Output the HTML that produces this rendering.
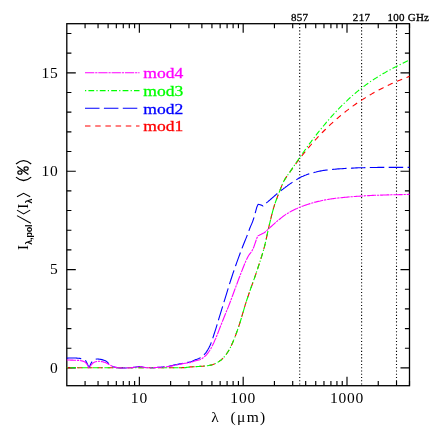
<!DOCTYPE html>
<html><head><meta charset="utf-8"><title>plot</title>
<style>
html,body{margin:0;padding:0;background:#fff;}
body{width:432px;height:432px;overflow:hidden;}
svg{display:block;will-change:transform;}
text{font-family:"Liberation Serif",serif;fill:#000;}
</style></head><body>
<svg width="432" height="432" viewBox="0 0 432 432">
<rect width="432" height="432" fill="#fff"/>
<path d="M85.08,385.7v-4.6M85.08,23.7v4.6M98.05,385.7v-4.6M98.05,23.7v4.6M108.11,385.7v-4.6M108.11,23.7v4.6M116.33,385.7v-4.6M116.33,23.7v4.6M123.28,385.7v-4.6M123.28,23.7v4.6M129.30,385.7v-4.6M129.30,23.7v4.6M134.61,385.7v-4.6M134.61,23.7v4.6M139.36,385.7v-9.0M139.36,23.7v9.0M170.62,385.7v-4.6M170.62,23.7v4.6M188.90,385.7v-4.6M188.90,23.7v4.6M201.87,385.7v-4.6M201.87,23.7v4.6M211.93,385.7v-4.6M211.93,23.7v4.6M220.15,385.7v-4.6M220.15,23.7v4.6M227.10,385.7v-4.6M227.10,23.7v4.6M233.12,385.7v-4.6M233.12,23.7v4.6M238.43,385.7v-4.6M238.43,23.7v4.6M243.18,385.7v-9.0M243.18,23.7v9.0M274.43,385.7v-4.6M274.43,23.7v4.6M292.71,385.7v-4.6M292.71,23.7v4.6M305.68,385.7v-4.6M305.68,23.7v4.6M315.74,385.7v-4.6M315.74,23.7v4.6M323.97,385.7v-4.6M323.97,23.7v4.6M330.92,385.7v-4.6M330.92,23.7v4.6M336.94,385.7v-4.6M336.94,23.7v4.6M342.25,385.7v-4.6M342.25,23.7v4.6M347.00,385.7v-9.0M347.00,23.7v9.0M378.25,385.7v-4.6M378.25,23.7v4.6M396.53,385.7v-4.6M396.53,23.7v4.6M409.50,385.7v-4.6M409.50,23.7v4.6M66.8,367.90h9.0M409.5,367.90h-9.0M66.8,348.23h4.6M409.5,348.23h-4.6M66.8,328.56h4.6M409.5,328.56h-4.6M66.8,308.89h4.6M409.5,308.89h-4.6M66.8,289.22h4.6M409.5,289.22h-4.6M66.8,269.55h9.0M409.5,269.55h-9.0M66.8,249.88h4.6M409.5,249.88h-4.6M66.8,230.21h4.6M409.5,230.21h-4.6M66.8,210.54h4.6M409.5,210.54h-4.6M66.8,190.87h4.6M409.5,190.87h-4.6M66.8,171.20h9.0M409.5,171.20h-9.0M66.8,151.53h4.6M409.5,151.53h-4.6M66.8,131.86h4.6M409.5,131.86h-4.6M66.8,112.19h4.6M409.5,112.19h-4.6M66.8,92.52h4.6M409.5,92.52h-4.6M66.8,72.85h9.0M409.5,72.85h-9.0M66.8,53.18h4.6M409.5,53.18h-4.6M66.8,33.51h4.6M409.5,33.51h-4.6" stroke="#000" stroke-width="1.15" fill="none"/>
<rect x="66.8" y="23.7" width="342.7" height="362.0" fill="none" stroke="#000" stroke-width="1.3"/>
<line x1="299.7" y1="23.8" x2="299.7" y2="385.7" stroke="#000" stroke-width="1.1" stroke-dasharray="1.1 2.17" stroke-linecap="butt"/>
<line x1="361.6" y1="23.8" x2="361.6" y2="385.7" stroke="#000" stroke-width="1.1" stroke-dasharray="1.1 2.17" stroke-linecap="butt"/>
<line x1="396.5" y1="23.8" x2="396.5" y2="385.7" stroke="#000" stroke-width="1.1" stroke-dasharray="1.1 2.17" stroke-linecap="butt"/>
<g fill="none" stroke-width="1.1">
<path d="M66.8,367.8 L67.8,367.8 L68.8,367.8 L69.8,367.8 L70.8,367.8 L71.8,367.8 L72.8,367.8 L73.8,367.8 L74.8,367.8 L75.8,367.8 L76.8,367.8 L77.8,367.8 L78.8,367.8 L79.8,367.8 L80.8,367.8 L81.8,367.8 L82.8,367.8 L83.8,367.8 L84.8,367.8 L85.8,367.8 L86.8,367.8 L87.8,367.8 L88.8,367.8 L89.8,367.8 L90.8,367.8 L91.8,367.8 L92.8,367.8 L93.8,367.8 L94.8,367.8 L95.8,367.8 L96.8,367.8 L97.8,367.8 L98.8,367.8 L99.8,367.8 L100.8,367.8 L101.8,367.8 L102.8,367.8 L103.8,367.8 L104.8,367.8 L105.8,367.8 L106.8,367.8 L107.8,367.8 L108.8,367.8 L109.8,367.8 L110.8,367.8 L111.8,367.8 L112.8,367.8 L113.8,367.8 L114.8,367.8 L115.8,367.8 L116.8,367.8 L117.8,367.8 L118.8,367.8 L119.8,367.8 L120.8,367.8 L121.8,367.8 L122.8,367.8 L123.8,367.8 L124.8,367.8 L125.8,367.8 L126.8,367.8 L127.8,367.8 L128.8,367.8 L129.8,367.8 L130.8,367.8 L131.8,367.8 L132.8,367.8 L133.8,367.8 L134.8,367.8 L135.8,367.8 L136.8,367.8 L137.8,367.8 L138.8,367.8 L139.8,367.8 L140.8,367.8 L141.8,367.8 L142.8,367.8 L143.8,367.8 L144.8,367.8 L145.8,367.8 L146.8,367.8 L147.8,367.8 L148.8,367.8 L149.8,367.8 L150.8,367.8 L151.8,367.8 L152.8,367.8 L153.8,367.8 L154.8,367.8 L155.8,367.8 L156.8,367.8 L157.8,367.8 L158.8,367.8 L159.8,367.8 L160.8,367.8 L161.8,367.8 L162.8,367.8 L163.8,367.8 L164.8,367.8 L165.8,367.8 L166.8,367.8 L167.8,367.8 L168.8,367.8 L169.8,367.7 L170.8,367.7 L171.8,367.7 L172.8,367.7 L173.8,367.7 L174.8,367.7 L175.8,367.7 L176.8,367.7 L177.8,367.7 L178.8,367.7 L179.8,367.7 L180.8,367.7 L181.8,367.6 L182.8,367.6 L183.8,367.6 L184.8,367.6 L185.8,367.6 L186.8,367.4 L187.8,367.3 L188.8,367.1 L189.8,367.0 L190.8,366.9 L191.8,366.9 L192.8,366.8 L193.8,366.7 L194.8,366.7 L195.8,366.6 L196.8,366.6 L197.8,366.5 L198.8,366.5 L199.8,366.4 L200.8,366.4 L201.8,366.3 L202.8,366.2 L203.8,366.1 L204.8,366.0 L205.8,365.9 L206.8,365.8 L207.8,365.7 L208.8,365.5 L209.8,365.3 L210.8,365.1 L211.8,364.9 L212.8,364.6 L213.8,364.2 L214.8,363.8 L215.8,363.4 L216.8,362.9 L217.8,362.3 L218.8,361.6 L219.8,360.9 L220.8,360.2 L221.8,359.3 L222.8,358.4 L223.8,357.3 L224.8,356.1 L225.8,354.9 L226.8,353.5 L227.8,352.0 L228.8,350.4 L229.8,348.6 L230.8,346.6 L231.8,344.4 L232.8,342.2 L233.8,339.9 L234.8,337.4 L235.8,334.8 L236.8,332.0 L237.8,329.1 L238.8,326.1 L239.8,323.1 L240.8,320.0 L241.8,316.7 L242.8,313.2 L243.8,309.8 L244.8,306.4 L245.8,303.1 L246.8,300.0 L247.8,297.0 L248.8,294.1 L249.8,291.2 L250.8,288.3 L251.8,285.5 L252.8,282.7 L253.8,279.9 L254.8,277.1 L255.8,274.2 L256.8,271.2 L257.8,268.3 L258.8,265.2 L259.8,262.1 L260.8,259.0 L261.8,255.9 L262.8,252.6 L263.8,249.1 L264.8,245.3 L265.8,241.0 L266.8,236.3 L267.8,231.6 L268.8,227.1 L269.8,222.9 L270.8,218.8 L271.8,214.7 L272.8,210.9 L273.8,207.4 L274.8,204.2 L275.8,201.2 L276.8,198.5 L277.8,195.8 L278.8,193.3 L279.8,190.7 L280.8,188.1 L281.8,185.6 L282.8,183.3 L283.8,181.2 L284.8,179.4 L285.8,177.9 L286.8,176.4 L287.8,175.1 L288.8,173.7 L289.8,172.2 L290.8,170.8 L291.8,169.4 L292.8,167.9 L293.8,166.6 L294.8,165.2 L295.8,163.8 L296.8,162.5 L297.8,161.1 L298.8,159.8 L299.8,158.5 L300.8,157.2 L301.8,155.9 L302.8,154.7 L303.8,153.4 L304.8,152.2 L305.8,150.9 L306.8,149.7 L307.8,148.5 L308.8,147.3 L309.8,146.1 L310.8,145.0 L311.8,143.8 L312.8,142.7 L313.8,141.6 L314.8,140.5 L315.8,139.3 L316.8,138.3 L317.8,137.2 L318.8,136.1 L319.8,135.1 L320.8,134.0 L321.8,133.0 L322.8,132.0 L323.8,131.0 L324.8,130.0 L325.8,129.0 L326.8,128.0 L327.8,127.0 L328.8,126.1 L329.8,125.1 L330.8,124.2 L331.8,123.3 L332.8,122.4 L333.8,121.5 L334.8,120.6 L335.8,119.7 L336.8,118.8 L337.8,118.0 L338.8,117.1 L339.8,116.3 L340.8,115.4 L341.8,114.6 L342.8,113.8 L343.8,113.0 L344.8,112.2 L345.8,111.4 L346.8,110.6 L347.8,109.9 L348.8,109.1 L349.8,108.3 L350.8,107.6 L351.8,106.9 L352.8,106.1 L353.8,105.4 L354.8,104.7 L355.8,104.0 L356.8,103.3 L357.8,102.6 L358.8,102.0 L359.8,101.3 L360.8,100.6 L361.8,100.0 L362.8,99.4 L363.8,98.7 L364.8,98.1 L365.8,97.5 L366.8,96.8 L367.8,96.2 L368.8,95.6 L369.8,95.0 L370.8,94.5 L371.8,93.9 L372.8,93.3 L373.8,92.7 L374.8,92.2 L375.8,91.6 L376.8,91.1 L377.8,90.6 L378.8,90.0 L379.8,89.5 L380.8,89.0 L381.8,88.5 L382.8,88.0 L383.8,87.4 L384.8,87.0 L385.8,86.5 L386.8,86.0 L387.8,85.5 L388.8,85.0 L389.8,84.6 L390.8,84.1 L391.8,83.6 L392.8,83.2 L393.8,82.7 L394.8,82.3 L395.8,81.9 L396.8,81.4 L397.8,81.0 L398.8,80.6 L399.8,80.2 L400.8,79.8 L401.8,79.4 L402.8,79.0 L403.8,78.6 L404.8,78.2 L405.8,77.8 L406.8,77.4 L407.8,77.0 L408.8,76.6 L409.5,76.4" stroke="#ff0000" stroke-dasharray="5.5 4.7"/>
<path d="M66.8,358.1 L67.8,358.1 L68.8,358.0 L69.8,358.0 L70.8,358.0 L71.8,358.0 L72.8,358.0 L73.8,358.0 L74.8,358.0 L75.8,358.0 L76.8,358.1 L77.8,358.2 L78.8,358.3 L79.8,358.4 L80.8,358.6 L81.8,358.8 L82.8,359.0 L83.8,359.4 L84.8,359.9 L85.8,360.9 L86.8,362.8 L87.8,364.9 L88.8,367.3 L89.8,366.3 L90.8,363.8 L91.8,362.1 L92.8,360.8 L93.8,360.1 L94.8,359.6 L95.8,359.2 L96.8,359.0 L97.8,359.0 L98.8,359.1 L99.8,359.3 L100.8,359.4 L101.8,359.6 L102.8,359.9 L103.8,360.2 L104.8,360.6 L105.8,361.0 L106.8,361.6 L107.8,362.6 L108.8,363.5 L109.8,364.4 L110.8,365.2 L111.8,365.8 L112.8,366.4 L113.8,366.9 L114.8,367.2 L115.8,367.4 L116.8,367.6 L117.8,367.7 L118.8,367.8 L119.8,367.9 L120.8,367.9 L121.8,368.0 L122.8,368.0 L123.8,368.0 L124.8,368.0 L125.8,368.0 L126.8,367.9 L127.8,367.9 L128.8,367.9 L129.8,367.8 L130.8,367.7 L131.8,367.6 L132.8,367.5 L133.8,367.3 L134.8,367.2 L135.8,367.0 L136.8,366.9 L137.8,366.7 L138.8,366.5 L139.8,366.5 L140.8,366.7 L141.8,366.9 L142.8,367.2 L143.8,367.3 L144.8,367.5 L145.8,367.6 L146.8,367.7 L147.8,367.8 L148.8,367.8 L149.8,367.8 L150.8,367.8 L151.8,367.7 L152.8,367.7 L153.8,367.6 L154.8,367.6 L155.8,367.5 L156.8,367.5 L157.8,367.4 L158.8,367.3 L159.8,367.3 L160.8,367.2 L161.8,367.1 L162.8,367.0 L163.8,366.9 L164.8,366.8 L165.8,366.7 L166.8,366.5 L167.8,366.4 L168.8,366.2 L169.8,366.0 L170.8,365.8 L171.8,365.6 L172.8,365.4 L173.8,365.1 L174.8,364.9 L175.8,364.7 L176.8,364.5 L177.8,364.3 L178.8,364.1 L179.8,363.9 L180.8,363.7 L181.8,363.5 L182.8,363.3 L183.8,363.1 L184.8,363.0 L185.8,362.8 L186.8,362.6 L187.8,362.4 L188.8,362.3 L189.8,362.0 L190.8,361.8 L191.8,361.4 L192.8,360.9 L193.8,360.4 L194.8,360.0 L195.8,359.6 L196.8,359.3 L197.8,358.9 L198.8,358.6 L199.8,358.1 L200.8,357.5 L201.8,356.8 L202.8,356.0 L203.8,355.0 L204.8,354.0 L205.8,352.8 L206.8,351.4 L207.8,349.7 L208.8,347.9 L209.8,345.9 L210.8,343.7 L211.8,341.0 L212.8,338.1 L213.8,335.0 L214.8,331.9 L215.8,328.8 L216.8,325.6 L217.8,322.3 L218.8,318.9 L219.8,315.7 L220.8,312.4 L221.8,309.1 L222.8,305.9 L223.8,302.6 L224.8,299.4 L225.8,296.1 L226.8,292.8 L227.8,289.6 L228.8,286.3 L229.8,283.1 L230.8,280.0 L231.8,277.0 L232.8,273.9 L233.8,271.0 L234.8,268.1 L235.8,265.2 L236.8,262.4 L237.8,259.6 L238.8,256.9 L239.8,254.2 L240.8,251.5 L241.8,248.9 L242.8,246.3 L243.8,243.8 L244.8,241.3 L245.8,238.9 L246.8,236.4 L247.8,233.8 L248.8,231.0 L249.8,228.3 L250.8,225.9 L251.8,223.6 L252.8,221.1 L253.8,218.0 L254.8,214.5 L255.8,210.9 L256.8,207.2 L257.8,204.9 L258.2,204.3 L259.2,204.5 L260.2,204.8 L261.2,205.1 L262.2,205.6 L263.0,206.0 L264.0,205.1 L265.0,204.2 L266.0,203.3 L267.0,202.4 L268.0,201.6 L269.0,200.7 L270.0,199.9 L271.0,199.0 L272.0,198.1 L273.0,197.3 L274.0,196.4 L275.0,195.5 L276.0,194.6 L277.0,193.8 L278.0,192.9 L279.0,192.1 L280.0,191.3 L281.0,190.6 L282.0,189.8 L283.0,189.1 L284.0,188.3 L285.0,187.6 L286.0,186.8 L287.0,186.1 L288.0,185.3 L289.0,184.6 L290.0,183.9 L291.0,183.2 L292.0,182.6 L293.0,182.0 L294.0,181.4 L295.0,180.7 L296.0,180.0 L297.0,179.4 L298.0,178.7 L299.0,178.1 L300.0,177.6 L301.0,177.1 L302.0,176.6 L303.0,176.2 L304.0,175.7 L305.0,175.3 L306.0,175.0 L307.0,174.6 L308.0,174.2 L309.0,173.9 L310.0,173.6 L311.0,173.3 L312.0,173.0 L313.0,172.7 L314.0,172.5 L315.0,172.2 L316.0,172.0 L317.0,171.7 L318.0,171.5 L319.0,171.3 L320.0,171.1 L321.0,170.9 L322.0,170.7 L323.0,170.5 L324.0,170.4 L325.0,170.3 L326.0,170.1 L327.0,170.0 L328.0,169.9 L329.0,169.8 L330.0,169.7 L331.0,169.6 L332.0,169.5 L333.0,169.4 L334.0,169.3 L335.0,169.2 L336.0,169.1 L337.0,169.0 L338.0,168.9 L339.0,168.9 L340.0,168.8 L341.0,168.7 L342.0,168.7 L343.0,168.6 L344.0,168.5 L345.0,168.5 L346.0,168.4 L347.0,168.4 L348.0,168.3 L349.0,168.3 L350.0,168.2 L351.0,168.2 L352.0,168.1 L353.0,168.1 L354.0,168.0 L355.0,168.0 L356.0,167.9 L357.0,167.9 L358.0,167.8 L359.0,167.8 L360.0,167.8 L361.0,167.7 L362.0,167.7 L363.0,167.7 L364.0,167.7 L365.0,167.6 L366.0,167.6 L367.0,167.6 L368.0,167.6 L369.0,167.6 L370.0,167.5 L371.0,167.5 L372.0,167.5 L373.0,167.5 L374.0,167.5 L375.0,167.5 L376.0,167.5 L377.0,167.5 L378.0,167.4 L379.0,167.4 L380.0,167.4 L381.0,167.4 L382.0,167.4 L383.0,167.4 L384.0,167.4 L385.0,167.4 L386.0,167.4 L387.0,167.4 L388.0,167.4 L389.0,167.4 L390.0,167.4 L391.0,167.4 L392.0,167.4 L393.0,167.4 L394.0,167.4 L395.0,167.4 L396.0,167.4 L397.0,167.4 L398.0,167.4 L399.0,167.4 L400.0,167.4 L401.0,167.4 L402.0,167.4 L403.0,167.4 L404.0,167.4 L405.0,167.4 L406.0,167.4 L407.0,167.4 L408.0,167.4 L409.0,167.4 L409.5,167.4" stroke="#0000ff" stroke-dasharray="14.5 4.4"/>
<path d="M66.8,367.8 L67.8,367.8 L68.8,367.8 L69.8,367.8 L70.8,367.8 L71.8,367.8 L72.8,367.8 L73.8,367.8 L74.8,367.8 L75.8,367.8 L76.8,367.8 L77.8,367.8 L78.8,367.8 L79.8,367.8 L80.8,367.8 L81.8,367.8 L82.8,367.8 L83.8,367.8 L84.8,367.8 L85.8,367.8 L86.8,367.8 L87.8,367.8 L88.8,367.8 L89.8,367.8 L90.8,367.8 L91.8,367.8 L92.8,367.8 L93.8,367.8 L94.8,367.8 L95.8,367.8 L96.8,367.8 L97.8,367.8 L98.8,367.8 L99.8,367.8 L100.8,367.8 L101.8,367.8 L102.8,367.8 L103.8,367.8 L104.8,367.8 L105.8,367.8 L106.8,367.8 L107.8,367.8 L108.8,367.8 L109.8,367.8 L110.8,367.8 L111.8,367.8 L112.8,367.8 L113.8,367.8 L114.8,367.8 L115.8,367.8 L116.8,367.8 L117.8,367.8 L118.8,367.8 L119.8,367.8 L120.8,367.8 L121.8,367.8 L122.8,367.8 L123.8,367.8 L124.8,367.8 L125.8,367.8 L126.8,367.8 L127.8,367.8 L128.8,367.8 L129.8,367.8 L130.8,367.8 L131.8,367.8 L132.8,367.8 L133.8,367.8 L134.8,367.8 L135.8,367.8 L136.8,367.8 L137.8,367.8 L138.8,367.8 L139.8,367.8 L140.8,367.8 L141.8,367.8 L142.8,367.8 L143.8,367.8 L144.8,367.8 L145.8,367.8 L146.8,367.8 L147.8,367.8 L148.8,367.8 L149.8,367.8 L150.8,367.8 L151.8,367.8 L152.8,367.8 L153.8,367.8 L154.8,367.8 L155.8,367.8 L156.8,367.8 L157.8,367.8 L158.8,367.8 L159.8,367.8 L160.8,367.8 L161.8,367.8 L162.8,367.8 L163.8,367.8 L164.8,367.8 L165.8,367.8 L166.8,367.8 L167.8,367.8 L168.8,367.8 L169.8,367.7 L170.8,367.7 L171.8,367.7 L172.8,367.7 L173.8,367.7 L174.8,367.7 L175.8,367.7 L176.8,367.7 L177.8,367.7 L178.8,367.7 L179.8,367.7 L180.8,367.7 L181.8,367.6 L182.8,367.6 L183.8,367.6 L184.8,367.6 L185.8,367.6 L186.8,367.4 L187.8,367.3 L188.8,367.1 L189.8,367.0 L190.8,366.9 L191.8,366.9 L192.8,366.8 L193.8,366.7 L194.8,366.7 L195.8,366.6 L196.8,366.6 L197.8,366.5 L198.8,366.5 L199.8,366.4 L200.8,366.4 L201.8,366.3 L202.8,366.2 L203.8,366.1 L204.8,366.0 L205.8,365.9 L206.8,365.8 L207.8,365.7 L208.8,365.5 L209.8,365.3 L210.8,365.1 L211.8,364.9 L212.8,364.6 L213.8,364.2 L214.8,363.8 L215.8,363.4 L216.8,362.9 L217.8,362.3 L218.8,361.6 L219.8,360.9 L220.8,360.2 L221.8,359.3 L222.8,358.4 L223.8,357.3 L224.8,356.1 L225.8,354.9 L226.8,353.5 L227.8,352.0 L228.8,350.4 L229.8,348.6 L230.8,346.6 L231.8,344.4 L232.8,342.2 L233.8,339.9 L234.8,337.4 L235.8,334.8 L236.8,332.0 L237.8,329.1 L238.8,326.1 L239.8,323.1 L240.8,320.0 L241.8,316.7 L242.8,313.2 L243.8,309.8 L244.8,306.4 L245.8,303.1 L246.8,300.0 L247.8,297.0 L248.8,294.1 L249.8,291.2 L250.8,288.3 L251.8,285.5 L252.8,282.7 L253.8,279.9 L254.8,277.1 L255.8,274.2 L256.8,271.2 L257.8,268.3 L258.8,265.2 L259.8,262.1 L260.8,259.0 L261.8,255.9 L262.8,252.6 L263.8,249.1 L264.8,245.3 L265.8,241.0 L266.8,236.3 L267.8,231.6 L268.8,227.1 L269.8,222.9 L270.8,218.8 L271.8,214.7 L272.8,210.9 L273.8,207.4 L274.8,204.2 L275.8,201.2 L276.8,198.5 L277.8,195.8 L278.8,193.3 L279.8,190.7 L280.8,188.1 L281.8,185.6 L282.8,183.3 L283.8,181.3 L284.8,179.5 L285.8,177.9 L286.8,176.4 L287.8,175.0 L288.8,173.6 L289.8,172.1 L290.8,170.6 L291.8,169.1 L292.8,167.6 L293.8,166.1 L294.8,164.6 L295.8,163.2 L296.8,161.7 L297.8,160.3 L298.8,158.8 L299.8,157.4 L300.8,155.9 L301.8,154.5 L302.8,153.1 L303.8,151.7 L304.8,150.3 L305.8,148.9 L306.8,147.5 L307.8,146.1 L308.8,144.8 L309.8,143.4 L310.8,142.1 L311.8,140.7 L312.8,139.4 L313.8,138.1 L314.8,136.8 L315.8,135.5 L316.8,134.2 L317.8,132.9 L318.8,131.6 L319.8,130.4 L320.8,129.1 L321.8,127.9 L322.8,126.7 L323.8,125.5 L324.8,124.3 L325.8,123.1 L326.8,121.9 L327.8,120.7 L328.8,119.6 L329.8,118.4 L330.8,117.3 L331.8,116.2 L332.8,115.1 L333.8,114.0 L334.8,112.9 L335.8,111.8 L336.8,110.8 L337.8,109.7 L338.8,108.7 L339.8,107.6 L340.8,106.6 L341.8,105.6 L342.8,104.6 L343.8,103.6 L344.8,102.7 L345.8,101.7 L346.8,100.8 L347.8,99.8 L348.8,98.9 L349.8,98.0 L350.8,97.1 L351.8,96.2 L352.8,95.3 L353.8,94.5 L354.8,93.6 L355.8,92.8 L356.8,91.9 L357.8,91.1 L358.8,90.3 L359.8,89.5 L360.8,88.7 L361.8,87.9 L362.8,87.2 L363.8,86.4 L364.8,85.7 L365.8,84.9 L366.8,84.2 L367.8,83.5 L368.8,82.8 L369.8,82.1 L370.8,81.4 L371.8,80.7 L372.8,80.1 L373.8,79.4 L374.8,78.7 L375.8,78.1 L376.8,77.5 L377.8,76.8 L378.8,76.2 L379.8,75.6 L380.8,75.0 L381.8,74.4 L382.8,73.8 L383.8,73.2 L384.8,72.7 L385.8,72.1 L386.8,71.5 L387.8,71.0 L388.8,70.4 L389.8,69.9 L390.8,69.4 L391.8,68.8 L392.8,68.3 L393.8,67.8 L394.8,67.3 L395.8,66.8 L396.8,66.2 L397.8,65.7 L398.8,65.2 L399.8,64.7 L400.8,64.2 L401.8,63.7 L402.8,63.3 L403.8,62.8 L404.8,62.3 L405.8,61.8 L406.8,61.3 L407.8,60.8 L408.8,60.3 L409.5,60.0" stroke="#00ff00" stroke-dasharray="1.2 2.2 5.8 2.2"/>
<path d="M66.8,360.0 L67.8,360.0 L68.8,360.0 L69.8,360.0 L70.8,360.1 L71.8,360.1 L72.8,360.1 L73.8,360.2 L74.8,360.2 L75.8,360.2 L76.8,360.3 L77.8,360.4 L78.8,360.4 L79.8,360.5 L80.8,360.7 L81.8,360.9 L82.8,361.1 L83.8,361.4 L84.8,361.9 L85.8,362.8 L86.8,363.9 L87.8,365.6 L88.8,367.6 L89.8,366.5 L90.8,365.3 L91.8,364.3 L92.8,363.2 L93.8,362.4 L94.8,362.0 L95.8,361.7 L96.8,361.5 L97.8,361.4 L98.8,361.3 L99.8,361.3 L100.8,361.4 L101.8,361.6 L102.8,361.8 L103.8,362.1 L104.8,362.3 L105.8,362.7 L106.8,363.2 L107.8,363.8 L108.8,364.4 L109.8,364.9 L110.8,365.4 L111.8,365.9 L112.8,366.4 L113.8,366.9 L114.8,367.2 L115.8,367.4 L116.8,367.6 L117.8,367.7 L118.8,367.8 L119.8,367.9 L120.8,367.9 L121.8,368.0 L122.8,368.0 L123.8,368.0 L124.8,368.0 L125.8,368.0 L126.8,367.9 L127.8,367.9 L128.8,367.9 L129.8,367.8 L130.8,367.7 L131.8,367.6 L132.8,367.5 L133.8,367.3 L134.8,367.2 L135.8,367.0 L136.8,366.9 L137.8,366.7 L138.8,366.5 L139.8,366.5 L140.8,366.7 L141.8,366.9 L142.8,367.2 L143.8,367.3 L144.8,367.5 L145.8,367.6 L146.8,367.7 L147.8,367.8 L148.8,367.8 L149.8,367.8 L150.8,367.8 L151.8,367.7 L152.8,367.7 L153.8,367.6 L154.8,367.6 L155.8,367.5 L156.8,367.5 L157.8,367.4 L158.8,367.3 L159.8,367.3 L160.8,367.2 L161.8,367.2 L162.8,367.1 L163.8,367.0 L164.8,366.9 L165.8,366.8 L166.8,366.7 L167.8,366.6 L168.8,366.5 L169.8,366.3 L170.8,366.1 L171.8,365.9 L172.8,365.7 L173.8,365.5 L174.8,365.3 L175.8,365.1 L176.8,364.9 L177.8,364.7 L178.8,364.5 L179.8,364.3 L180.8,364.1 L181.8,363.9 L182.8,363.7 L183.8,363.5 L184.8,363.3 L185.8,363.2 L186.8,363.0 L187.8,362.9 L188.8,362.8 L189.8,362.6 L190.8,362.4 L191.8,362.1 L192.8,361.7 L193.8,361.3 L194.8,361.0 L195.8,360.7 L196.8,360.5 L197.8,360.3 L198.8,360.0 L199.8,359.7 L200.8,359.2 L201.8,358.7 L202.8,358.0 L203.8,357.3 L204.8,356.4 L205.8,355.5 L206.8,354.4 L207.8,353.2 L208.8,351.8 L209.8,350.3 L210.8,348.7 L211.8,346.8 L212.8,344.8 L213.8,342.7 L214.8,340.4 L215.8,338.2 L216.8,335.7 L217.8,333.2 L218.8,330.6 L219.8,328.0 L220.8,325.5 L221.8,323.0 L222.8,320.5 L223.8,318.0 L224.8,315.5 L225.8,313.0 L226.8,310.5 L227.8,308.1 L228.8,305.6 L229.8,303.0 L230.8,300.4 L231.8,297.7 L232.8,295.0 L233.8,292.2 L234.8,289.5 L235.8,286.9 L236.8,284.2 L237.8,281.5 L238.8,278.8 L239.8,276.2 L240.8,273.6 L241.8,271.1 L242.8,268.5 L243.8,266.0 L244.8,263.5 L245.8,261.1 L246.8,258.9 L247.8,257.0 L248.8,255.3 L249.8,253.9 L250.8,252.6 L251.8,251.1 L252.8,249.3 L253.8,247.0 L254.8,244.1 L255.8,241.2 L256.8,238.3 L257.8,236.2 L258.2,235.6 L259.2,235.2 L260.2,234.7 L261.2,234.3 L262.2,233.8 L263.2,233.3 L264.2,232.8 L265.2,232.0 L266.2,231.1 L267.2,230.2 L268.2,229.2 L269.2,228.3 L270.2,227.4 L271.2,226.5 L272.2,225.6 L273.2,224.7 L274.2,223.8 L275.2,222.9 L276.2,222.0 L277.2,221.1 L278.2,220.3 L279.2,219.5 L280.2,218.7 L281.2,217.9 L282.2,217.1 L283.2,216.3 L284.2,215.6 L285.2,214.9 L286.2,214.3 L287.2,213.6 L288.2,213.0 L289.2,212.5 L290.2,211.9 L291.2,211.3 L292.2,210.8 L293.2,210.3 L294.2,209.8 L295.2,209.3 L296.2,208.8 L297.2,208.4 L298.2,207.9 L299.2,207.5 L300.2,207.1 L301.2,206.7 L302.2,206.3 L303.2,205.9 L304.2,205.6 L305.2,205.2 L306.2,204.9 L307.2,204.5 L308.2,204.2 L309.2,203.9 L310.2,203.6 L311.2,203.3 L312.2,203.0 L313.2,202.7 L314.2,202.4 L315.2,202.1 L316.2,201.9 L317.2,201.6 L318.2,201.4 L319.2,201.2 L320.2,201.0 L321.2,200.7 L322.2,200.5 L323.2,200.3 L324.2,200.1 L325.2,199.9 L326.2,199.7 L327.2,199.5 L328.2,199.4 L329.2,199.2 L330.2,199.0 L331.2,198.9 L332.2,198.7 L333.2,198.6 L334.2,198.5 L335.2,198.3 L336.2,198.2 L337.2,198.1 L338.2,198.0 L339.2,197.9 L340.2,197.8 L341.2,197.7 L342.2,197.6 L343.2,197.5 L344.2,197.4 L345.2,197.3 L346.2,197.2 L347.2,197.1 L348.2,197.0 L349.2,196.9 L350.2,196.8 L351.2,196.8 L352.2,196.7 L353.2,196.6 L354.2,196.5 L355.2,196.5 L356.2,196.4 L357.2,196.3 L358.2,196.2 L359.2,196.2 L360.2,196.1 L361.2,196.0 L362.2,196.0 L363.2,195.9 L364.2,195.9 L365.2,195.8 L366.2,195.8 L367.2,195.7 L368.2,195.6 L369.2,195.6 L370.2,195.5 L371.2,195.5 L372.2,195.4 L373.2,195.4 L374.2,195.3 L375.2,195.3 L376.2,195.3 L377.2,195.2 L378.2,195.2 L379.2,195.2 L380.2,195.1 L381.2,195.1 L382.2,195.1 L383.2,195.0 L384.2,195.0 L385.2,195.0 L386.2,195.0 L387.2,194.9 L388.2,194.9 L389.2,194.9 L390.2,194.9 L391.2,194.8 L392.2,194.8 L393.2,194.8 L394.2,194.8 L395.2,194.7 L396.2,194.7 L397.2,194.7 L398.2,194.7 L399.2,194.6 L400.2,194.6 L401.2,194.6 L402.2,194.6 L403.2,194.5 L404.2,194.5 L405.2,194.5 L406.2,194.5 L407.2,194.5 L408.2,194.4 L409.2,194.4 L409.5,194.4" stroke="#ff00ff" stroke-dasharray="9.3 0.9 2.2 0.9"/>
</g>
<line x1="85" y1="72.8" x2="139.5" y2="72.8" stroke="#ff00ff" stroke-width="1.1" stroke-dasharray="9.3 0.9 2.2 0.9"/>
<text x="143.3" y="78.0" font-size="15.5" textLength="40" lengthAdjust="spacingAndGlyphs" style="fill:#ff00ff;stroke:#ff00ff;stroke-width:0.3">mod4</text>
<line x1="85" y1="90.6" x2="139.5" y2="90.6" stroke="#00ff00" stroke-width="1.1" stroke-dasharray="1.2 2.2 5.8 2.2"/>
<text x="143.3" y="95.8" font-size="15.5" textLength="40" lengthAdjust="spacingAndGlyphs" style="fill:#00ff00;stroke:#00ff00;stroke-width:0.3">mod3</text>
<line x1="85" y1="108.3" x2="139.5" y2="108.3" stroke="#0000ff" stroke-width="1.1" stroke-dasharray="14.5 4.4"/>
<text x="143.3" y="113.5" font-size="15.5" textLength="40" lengthAdjust="spacingAndGlyphs" style="fill:#0000ff;stroke:#0000ff;stroke-width:0.3">mod2</text>
<line x1="85" y1="126.0" x2="139.5" y2="126.0" stroke="#ff0000" stroke-width="1.1" stroke-dasharray="5.5 4.7"/>
<text x="143.3" y="131.2" font-size="15.5" textLength="40" lengthAdjust="spacingAndGlyphs" style="fill:#ff0000;stroke:#ff0000;stroke-width:0.3">mod1</text>
<text x="139.4" y="403.3" font-size="15.5" text-anchor="middle" letter-spacing="0.8">10</text>
<text x="243.2" y="403.3" font-size="15.5" text-anchor="middle" letter-spacing="0.8">100</text>
<text x="347.0" y="403.3" font-size="15.5" text-anchor="middle" letter-spacing="0.8">1000</text>
<text x="58.6" y="372.8" font-size="15.5" text-anchor="end" letter-spacing="0.8">0</text>
<text x="58.6" y="274.4" font-size="15.5" text-anchor="end" letter-spacing="0.8">5</text>
<text x="58.6" y="176.1" font-size="15.5" text-anchor="end" letter-spacing="0.8">10</text>
<text x="58.6" y="77.7" font-size="15.5" text-anchor="end" letter-spacing="0.8">15</text>
<text x="299.7" y="20.8" font-size="11" text-anchor="middle" letter-spacing="0.35" stroke="#000" stroke-width="0.3">857</text>
<text x="361.6" y="20.8" font-size="11" text-anchor="middle" letter-spacing="0.35" stroke="#000" stroke-width="0.3">217</text>
<text x="387.4" y="20.8" font-size="11" textLength="41.6" lengthAdjust="spacing" stroke="#000" stroke-width="0.3">100 GHz</text>
<text x="211.3" y="422" font-size="15.5">λ</text>
<text x="230.5" y="422" font-size="15.5" textLength="34.7" lengthAdjust="spacing">(μm)</text>
<g transform="translate(28.1,249.7) rotate(-90)">
<text x="-0.4" y="0" font-size="15.5">I</text>
<text x="5.0" y="3.4" font-size="9" font-weight="bold" font-family="Liberation Sans" style="font-family:'Liberation Sans',sans-serif" textLength="20.2" lengthAdjust="spacing">λ,pol</text>
<path d="M26.5,2.8 L34.1,-11.1 M39.6,-11.1 L35.7,-4.5 L39.6,2.1 M53,-11.1 L56.4,-4.5 L53,2.1" stroke="#000" stroke-width="1.05" fill="none"/>
<text x="40.9" y="0" font-size="15.5">I</text>
<text x="46.3" y="3.4" font-size="9" font-weight="bold" style="font-family:'Liberation Sans',sans-serif">λ</text>
<path d="M72.6,-12.1 Q65.8,-4.5 72.6,3.1 M85.7,-12.1 Q92.5,-4.5 85.7,3.1" stroke="#000" stroke-width="1.2" fill="none"/>
<path d="M83.2,-10.9 L75.2,0.3" stroke="#000" stroke-width="1.2" fill="none"/>
<ellipse cx="77.2" cy="-8.2" rx="1.7" ry="2.1" stroke="#000" stroke-width="1.15" fill="none"/>
<ellipse cx="81.2" cy="-2.0" rx="1.7" ry="2.1" stroke="#000" stroke-width="1.15" fill="none"/>
</g>
</svg>
</body></html>
